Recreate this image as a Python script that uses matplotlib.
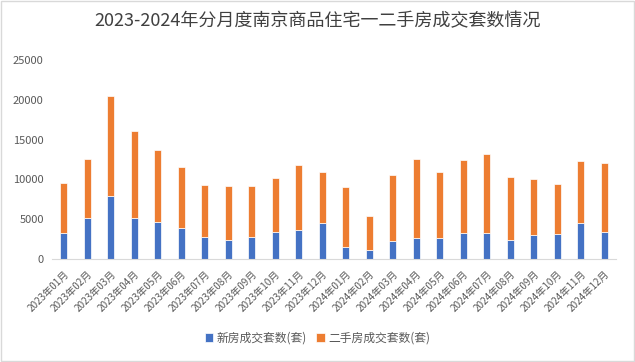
import matplotlib
matplotlib.use("Agg")
import matplotlib.pyplot as plt
import numpy as np

plt.rcParams['font.family'] = ['Noto Sans CJK SC', 'DejaVu Sans']

months = ['2023年01月', '2023年02月', '2023年03月', '2023年04月', '2023年05月', '2023年06月',
          '2023年07月', '2023年08月', '2023年09月', '2023年10月', '2023年11月', '2023年12月',
          '2024年01月', '2024年02月', '2024年03月', '2024年04月', '2024年05月', '2024年06月',
          '2024年07月', '2024年08月', '2024年09月', '2024年10月', '2024年11月', '2024年12月']
# new homes sold (sets)
new_sales = [3220, 5190, 7960, 5190, 4610, 3940, 2810, 2430, 2810, 3430, 3600, 4480,
             1470, 1090, 2220, 2680, 2600, 3220, 3220, 2350, 2970, 3100, 4480, 3350]
# second-hand homes sold (sets)
second_sales = [6370, 7420, 12560, 10930, 9130, 7660, 6530, 6780, 6400, 6790, 8250, 6490,
                7620, 4350, 8380, 9930, 8370, 9260, 10010, 7990, 7120, 6360, 7870, 8750]

blue = '#4472C4'
orange = '#ED7D31'
txt = '#595959'

fig = plt.figure(figsize=(6.35, 3.62), dpi=100)
ax = fig.add_axes([0.082, 0.2845, 0.888, 0.5495])

x = np.arange(len(months))
ax.bar(x, new_sales, width=0.3, color=blue, edgecolor='white', linewidth=0.5,
       label='新房成交套数(套)')
ax.bar(x, second_sales, width=0.3, bottom=new_sales, color=orange, edgecolor='white',
       linewidth=0.5, label='二手房成交套数(套)')

ax.set_xlim(-0.5, len(months) - 0.5)
ax.set_ylim(0, 25000)
ax.set_yticks(range(0, 25001, 5000))
ax.set_xticks(x)
ax.set_xticklabels(months, rotation=45, ha='right', rotation_mode='anchor',
                   fontsize=7.2, color=txt)
ax.tick_params(axis='y', length=0, labelsize=8, labelcolor=txt, pad=6)
ax.tick_params(axis='x', length=0, pad=7)
for s in ['top', 'right', 'left']:
    ax.spines[s].set_visible(False)
ax.spines['bottom'].set_color('#D9D9D9')

fig.suptitle('2023-2024年分月度南京商品住宅一二手房成交套数情况', x=0.5, y=0.965,
             fontsize=13, color='#404040')

fig.legend(loc='center', bbox_to_anchor=(0.5, 0.066), ncol=2, frameon=False,
           fontsize=8.5, handlelength=0.7, handleheight=0.7, handletextpad=0.3,
           columnspacing=0.8, labelcolor=txt)

fig.patches.append(plt.Rectangle((0.002, 0.003), 0.996, 0.994, transform=fig.transFigure,
                                 fill=False, edgecolor='#D9D9D9', linewidth=1))

fig.savefig('out.png', dpi=100)
